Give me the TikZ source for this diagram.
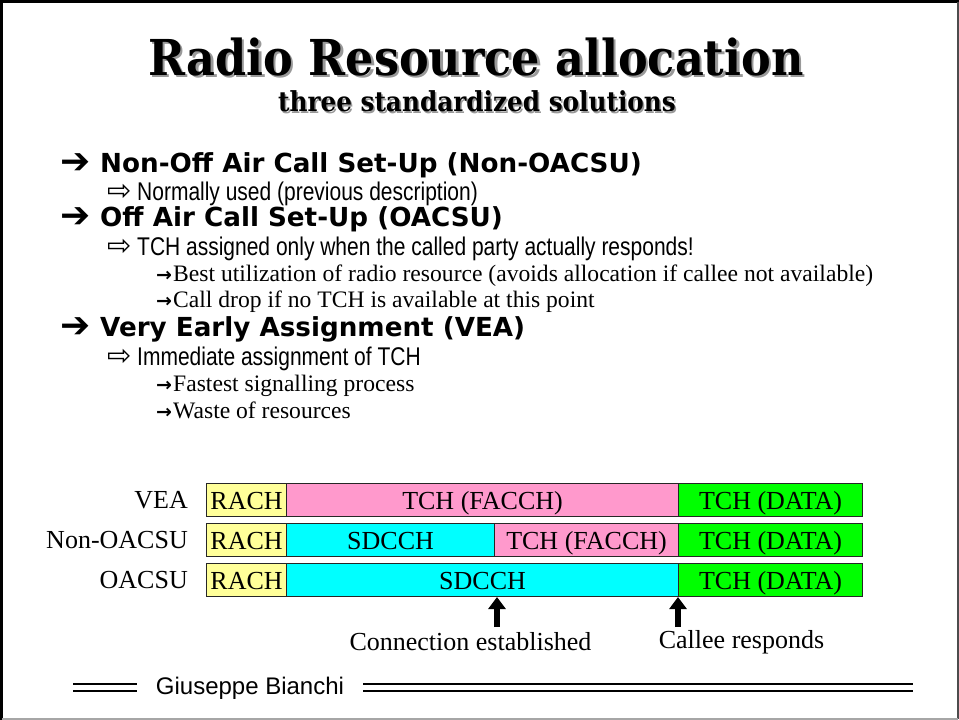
\documentclass[tikz,border=0pt]{standalone}
\usepackage{fontspec}
\setmainfont{Liberation Serif}
\newfontfamily\titlefont{DejaVu Serif Condensed}
\newfontfamily\headfont{DejaVu Sans}
\newfontfamily\narrowfont[FakeStretch=0.82]{Liberation Sans}
\newfontfamily\footfont{Liberation Sans}
\usetikzlibrary{arrows.meta}

\definecolor{rachc}{HTML}{FFFF99}
\definecolor{facchc}{HTML}{FF99CC}
\definecolor{sdcchc}{HTML}{00FFFF}
\definecolor{datac}{HTML}{00FF00}

% text with a grey drop shadow behind it
\newcommand\shadowedtext[2]{\rlap{\kern#1\raisebox{-#1}{\textcolor{black!40}{#2}}}#2}

\begin{document}
\begin{tikzpicture}[x=1pt,y=-1pt,
  lvlone/.style={anchor=base west, inner sep=0pt, font=\headfont\bfseries\fontsize{26.2}{30}\selectfont},
  bigbullet/.style={anchor=base west, inner sep=0pt, font=\headfont\fontsize{36}{40}\selectfont},
  lvltwo/.style={anchor=base west, inner sep=0pt, font=\narrowfont\fontsize{25.6}{30}\selectfont},
  hollowbullet/.style={anchor=base west, inner sep=0pt, font=\headfont\fontsize{29}{32}\selectfont},
  lvlthree/.style={anchor=base west, inner sep=0pt, font=\fontsize{23.6}{27}\selectfont},
  smallarrow/.style={anchor=base west, inner sep=0pt, font=\headfont\bfseries\fontsize{19}{22}\selectfont},
  seg/.style={draw=black!85, line width=1.1pt, anchor=west, minimum height=33pt, inner sep=0pt,
    text height=24pt, text depth=5pt, font=\fontsize{26}{30}\selectfont},
  rowlabel/.style={anchor=east, inner sep=0pt, font=\fontsize{26}{30}\selectfont},
  marker/.style={line width=6pt, -{Triangle[width=17pt,length=12pt]}},
  caption/.style={inner sep=0pt, font=\fontsize{26}{30}\selectfont},
  rule/.style={line width=1.4pt}]

\useasboundingbox (0,0) rectangle (959,720);
\fill[white] (0,0) rectangle (959,720);
% slide frame
\draw[line width=3pt, black] (1.5,720) -- (1.5,1.5) -- (959,1.5);
\draw[line width=2pt, black!70] (958,1.5) -- (958,719);
\draw[line width=2pt, black!35] (958,719) -- (1.5,719);

% heading
\node[inner sep=0pt, font=\titlefont\bfseries\fontsize{49.5}{52}\selectfont] (title) at (476,58) {\shadowedtext{2.5pt}{Radio Resource allocation}};
\node[inner sep=0pt, font=\titlefont\bfseries\fontsize{27.5}{30}\selectfont] (subtitle) at (477,102) {\shadowedtext{1.5pt}{three standardized solutions}};

% bullet list
\node[bigbullet] (b1) at (60,173) {➔};
\node[lvlone] (t1) at (100,172) {Non-Off Air Call Set-Up (Non-OACSU)};
\node[hollowbullet] (b11) at (107,200) {⇨};
\node[lvltwo] (t11) at (137,200) {Normally used (previous description)};
\node[bigbullet] (b2) at (60,227) {➔};
\node[lvlone] (t2) at (100,226) {Off Air Call Set-Up (OACSU)};
\node[hollowbullet] (b21) at (107,255) {⇨};
\node[lvltwo] (t21) at (137,255) {TCH assigned only when the called party actually responds!};
\node[smallarrow] (b211) at (156,281) {→};
\node[lvlthree] (t211) at (173,281) {Best utilization of radio resource (avoids allocation if callee not available)};
\node[smallarrow] (b212) at (156,307) {→};
\node[lvlthree] (t212) at (173,307) {Call drop if no TCH is available at this point};
\node[bigbullet] (b3) at (60,337) {➔};
\node[lvlone] (t3) at (100,336) {Very Early Assignment (VEA)};
\node[hollowbullet] (b31) at (107,365) {⇨};
\node[lvltwo] (t31) at (137,365) {Immediate assignment of TCH};
\node[smallarrow] (b311) at (156,391) {→};
\node[lvlthree] (t311) at (173,391) {Fastest signalling process};
\node[smallarrow] (b312) at (156,418) {→};
\node[lvlthree] (t312) at (173,418) {Waste of resources};

% channel timelines
\node[rowlabel] (lvea) at (188,500) {VEA};
\node[seg, fill=rachc, minimum width=80pt] (rach1) at (206,500) {RACH};
\node[seg, fill=facchc, minimum width=392pt] (facch1) at (286,500) {TCH (FACCH)};
\node[seg, fill=datac, minimum width=184pt] (data1) at (678,500) {TCH (DATA)};

\node[rowlabel] (lnon) at (188,540) {Non-OACSU};
\node[seg, fill=rachc, minimum width=80pt] (rach2) at (206,540) {RACH};
\node[seg, fill=sdcchc, minimum width=208pt] (sdcch2) at (286,540) {SDCCH};
\node[seg, fill=facchc, minimum width=184pt] (facch2) at (494,540) {TCH (FACCH)};
\node[seg, fill=datac, minimum width=184pt] (data2) at (678,540) {TCH (DATA)};

\node[rowlabel] (loacsu) at (188,580) {OACSU};
\node[seg, fill=rachc, minimum width=80pt] (rach3) at (206,580) {RACH};
\node[seg, fill=sdcchc, minimum width=392pt] (sdcch3) at (286,580) {SDCCH};
\node[seg, fill=datac, minimum width=184pt] (data3) at (678,580) {TCH (DATA)};

% event markers
\coordinate (connfoot) at (497,627);
\coordinate (calleefoot) at (678,627);
\draw[marker] (connfoot) -- (connfoot |- sdcch3.south);
\draw[marker] (calleefoot) -- (calleefoot |- data3.south);
\node[caption] (conn) at (470.5,642) {Connection established};
\node[caption] (callee) at (741.5,642) {Callee responds};

% footer
\node[inner sep=0pt, font=\footfont\fontsize{24}{27}\selectfont] (author) at (250,688) {Giuseppe Bianchi};
\coordinate (fl) at (73,684);
\coordinate (fr) at (913,684);
\draw[rule] (fl) -- ++(64,0) (fl) ++(0,7) -- ++(64,0);
\draw[rule] (363,684) -- (fr) (363,691) -- (913,691);
\end{tikzpicture}
\end{document}
